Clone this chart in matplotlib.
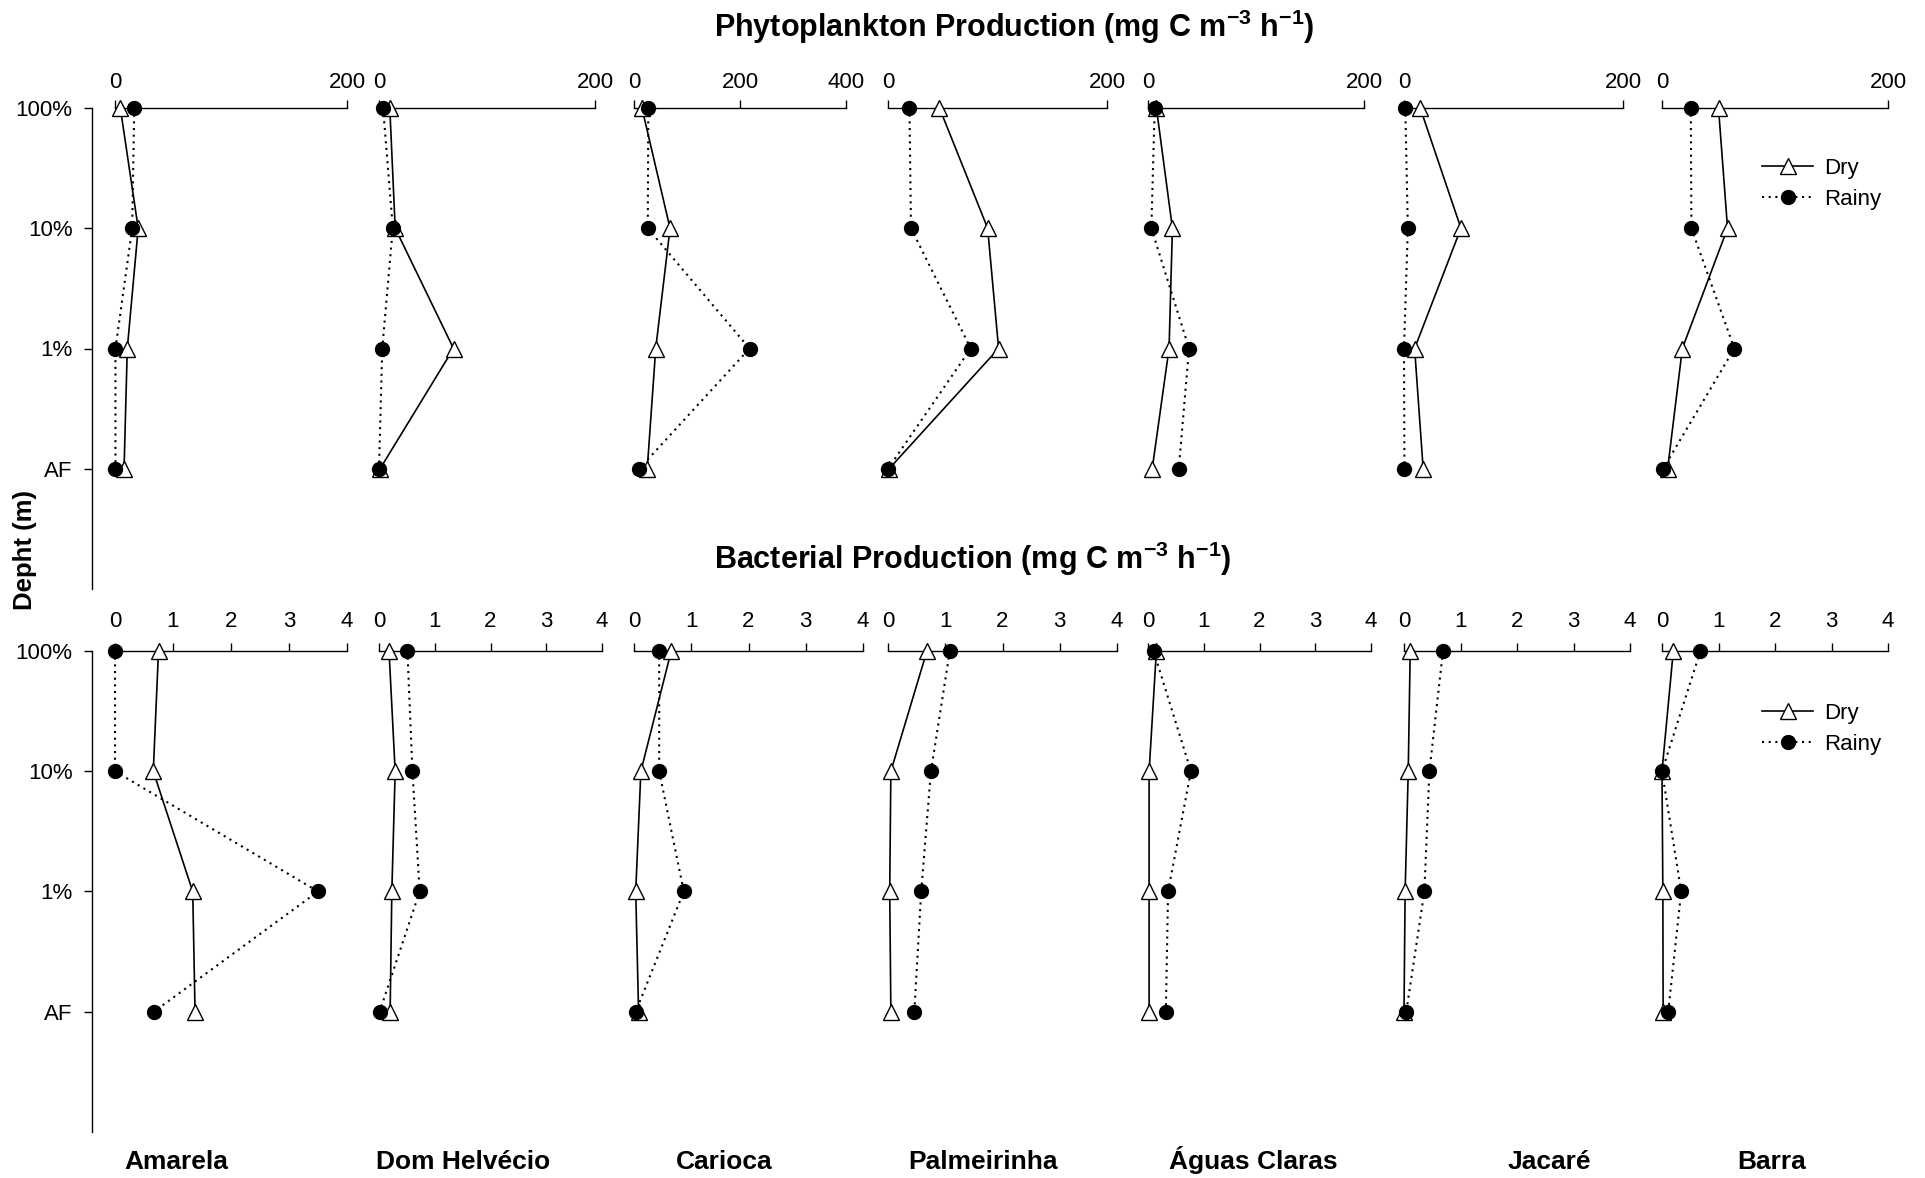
import matplotlib
matplotlib.use("Agg")
import matplotlib.pyplot as plt

plt.rcParams['font.family'] = ['Liberation Sans', 'DejaVu Sans']
plt.rcParams['mathtext.fontset'] = 'custom'
plt.rcParams['mathtext.rm'] = 'Liberation Sans'
plt.rcParams['mathtext.bf'] = 'Liberation Sans:bold'

# depth levels and lakes
levels = ['100%', '10%', '1%', 'AF']
stations = ['Amarela', 'Dom Helvécio', 'Carioca', 'Palmeirinha',
            'Águas Claras', 'Jacaré', 'Barra']

# phytoplankton production (mg C m-3 h-1), one row per lake, values per level
phyto_dry = [
    [4.6, 20, 10.6, 7.8],
    [10, 15, 69, 1],
    [15, 68, 41, 25],
    [47, 91, 101, 1],
    [7.8, 22.6, 19.5, 3.9],
    [14.8, 52, 9.7, 17.5],
    [50, 58, 18, 5],
]
phyto_rainy = [
    [16.6, 14.8, 0.4, 0.4],
    [3.8, 12.8, 3, 0],
    [27, 26, 218, 10],
    [19.6, 21, 75.6, 0],
    [6.2, 3.1, 38, 28.5],
    [1.2, 3.5, 0, 0.4],
    [25.5, 26, 64, 1],
]
phyto_xmax = [200, 200, 400, 200, 200, 200, 200]

# bacterial production (mg C m-3 h-1)
bact_dry = [
    [0.75, 0.66, 1.34, 1.38],
    [0.18, 0.29, 0.23, 0.2],
    [0.65, 0.12, 0.03, 0.08],
    [0.68, 0.05, 0.03, 0.05],
    [0.15, 0.02, 0.02, 0.02],
    [0.11, 0.075, 0.02, 0.0],
    [0.2, 0.0, 0.015, 0.02],
]
bact_rainy = [
    [0.0, 0.0, 3.5, 0.67],
    [0.51, 0.6, 0.73, 0.01],
    [0.44, 0.44, 0.87, 0.03],
    [1.08, 0.75, 0.58, 0.46],
    [0.1, 0.77, 0.36, 0.32],
    [0.69, 0.45, 0.36, 0.04],
    [0.68, 0.0, 0.34, 0.11],
]
bact_xmax = [4] * 7

W, H = 1925, 1178

# panel extents in pixels (x of 0, x of max)
top_x = [(115, 347), (379, 595), (634, 846), (888, 1107), (1148, 1364), (1404, 1623), (1662, 1888)]
bot_x = [(115, 347), (379, 602), (634, 863), (888, 1117), (1148, 1371), (1404, 1630), (1662, 1888)]
rows = [
    dict(y0=108, y1=589, xs=top_x, dry=phyto_dry, rainy=phyto_rainy, xmax=phyto_xmax, pad=5,
         legend_y=184),
    dict(y0=651, y1=1132, xs=bot_x, dry=bact_dry, rainy=bact_rainy, xmax=bact_xmax, pad=8,
         legend_y=729),
]

fig = plt.figure(figsize=(W / 100, H / 100), dpi=100)
ypos = list(range(len(levels)))


def fig_rect(x0, x1, y0, y1):
    return [x0 / W, 1 - y1 / H, (x1 - x0) / W, (y1 - y0) / H]


for row in rows:
    # shared depth axis on the left
    dax = fig.add_axes(fig_rect(92, 100, row['y0'], row['y1']))
    dax.set_facecolor('none')
    for s in ['top', 'right', 'bottom']:
        dax.spines[s].set_visible(False)
    dax.spines['left'].set_linewidth(1.0)
    dax.set_ylim(len(levels), 0)
    dax.set_yticks(ypos)
    dax.set_yticklabels(levels, fontsize=16)
    dax.tick_params(axis='y', length=6, width=1, pad=8)
    dax.set_xticks([])

    for i in range(len(stations)):
        x0, x1 = row['xs'][i]
        ax = fig.add_axes(fig_rect(x0, x1, row['y0'], row['y1']))
        ax.set_facecolor('none')
        ax.set_xlim(0, row['xmax'][i])
        ax.set_ylim(len(levels), 0)
        for s in ['left', 'right', 'bottom']:
            ax.spines[s].set_visible(False)
        ax.spines['top'].set_linewidth(1.0)
        ax.xaxis.tick_top()
        if row['xmax'][i] == 4:
            ax.set_xticks([0, 1, 2, 3, 4])
        else:
            ax.set_xticks(list(range(0, row['xmax'][i] + 1, 200)))
        ax.tick_params(axis='x', labelsize=16, length=6, width=1, pad=row['pad'])
        ax.set_yticks([])

        dry_line, = ax.plot(row['dry'][i], ypos, color='black', lw=1.2, marker='^',
                            markersize=11, markerfacecolor='white', markeredgecolor='black',
                            markeredgewidth=1.0, clip_on=False, zorder=3, label='Dry')
        rainy_line, = ax.plot(row['rainy'][i], ypos, color='black', lw=1.5,
                              linestyle=(0, (1, 2.2)), marker='o', markersize=10,
                              markerfacecolor='black', markeredgecolor='black',
                              clip_on=False, zorder=4, label='Rainy')

    fig.legend(handles=[dry_line, rainy_line], labels=['Dry', 'Rainy'],
               loc='center left', bbox_to_anchor=(1762 / W, 1 - row['legend_y'] / H),
               frameon=False, fontsize=16, handlelength=2.3, borderpad=0,
               borderaxespad=0, labelspacing=0.45, handletextpad=0.5, numpoints=1)

fig.text(714 / W, 1 - 27 / H,
         r'Phytoplankton Production (mg C m$^{\mathbf{-3}}$ h$^{\mathbf{-1}}$)',
         fontsize=22, fontweight='bold', ha='left', va='center')
fig.text(714 / W, 1 - 559 / H,
         r'Bacterial Production (mg C m$^{\mathbf{-3}}$ h$^{\mathbf{-1}}$)',
         fontsize=22, fontweight='bold', ha='left', va='center')
fig.text(25 / W, 1 - 550 / H, 'Depht (m)', rotation=90, fontsize=18.5,
         fontweight='bold', ha='center', va='center')

label_x = [176, 463, 724, 983, 1253, 1549, 1772]
for name, lx in zip(stations, label_x):
    fig.text(lx / W, 1 - 1169 / H, name, fontsize=19, fontweight='bold',
             ha='center', va='baseline')

fig.savefig('out.png', dpi=100)
